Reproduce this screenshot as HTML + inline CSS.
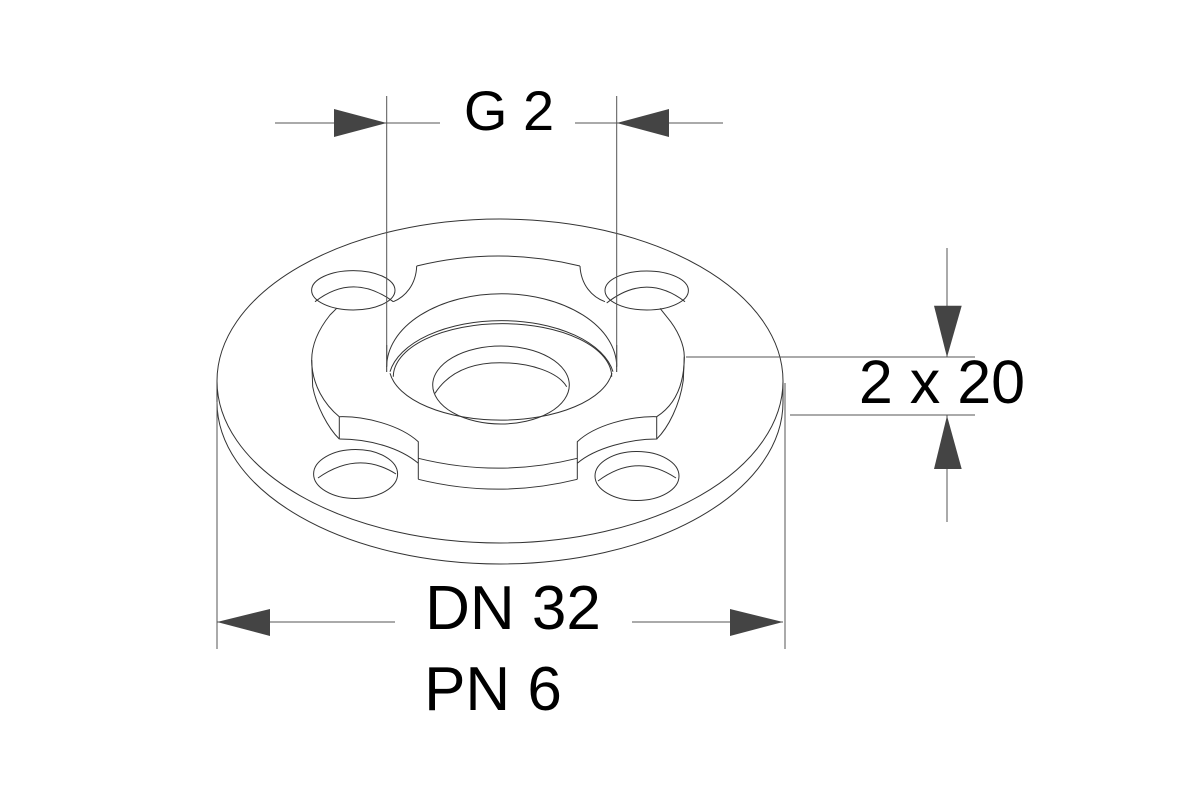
<!DOCTYPE html>
<html><head><meta charset="utf-8"><style>html,body{margin:0;padding:0;background:#fff}svg{display:block}</style></head>
<body>
<svg width="1200" height="800" viewBox="0 0 1200 800" xmlns="http://www.w3.org/2000/svg">
<g fill="none" stroke="#333" stroke-width="1">
<!-- outer flange -->
<ellipse cx="500" cy="381" rx="283" ry="162"/>
<path d="M217,381 L217,402 A283,162 0 0 0 783,402 L783,381"/>
<!-- holes -->
<ellipse cx="353.3" cy="290.3" rx="41.7" ry="19.7"/>
<path d="M315,301.7 Q353,272 393.3,301.7"/>
<ellipse cx="646.7" cy="290.5" rx="41.7" ry="19.5"/>
<path d="M606.7,303 Q646,272 685,301.7"/>
<ellipse cx="355.6" cy="474" rx="42" ry="24.5"/>
<path d="M318,478 Q358,450 396,474"/>
<ellipse cx="637" cy="476" rx="42" ry="24.5"/>
<path d="M598,481 Q637,452 676,478"/>
<!-- boss top notch -->
<path d="M416.7,266 Q498.3,246 580,266"/>
<path d="M416.7,266 C416,285 405,297 393.3,301.7"/>
<path d="M580,266 C581,285 592,297 605,301.7"/>
<!-- left boss -->
<path d="M336.7,308.3 L330,315 C318,330 311.7,345 311.7,360 C311.7,385 325,405 339.3,416.7"/>
<path d="M311.7,360 L312.7,386.7 C316,405 328,428 339.3,439"/>
<path d="M339.3,416.7 L339.3,439"/>
<path d="M339.3,416.7 C365,416 400,425 418.3,441.7 L418.3,479.3"/>
<path d="M339.3,439 C370,439 400,448 418.3,463.3"/>
<!-- front chord -->
<path d="M418.3,458.3 Q498.3,478 577.3,458.3"/>
<path d="M418.3,479.3 Q498.3,499 577.3,479.3"/>
<path d="M577.3,479.3 L577.3,441.7 C595,425 630,416 656.7,416.7 L656.7,439 C630,439 595,448 577.3,463.3"/>
<!-- right boss -->
<path d="M656.7,416.7 C675,405 684.3,385 684.3,356.7 C684.3,345 678,330 666.7,316.7 L660,308.3"/>
<path d="M684.3,356.7 L683.3,380 C680,405 668,428 656.7,439"/>
<!-- bore -->
<path d="M386.7,366.7 A115,73 0 0 1 616.7,366.7"/>
<path d="M386.7,345 L386.7,372 M616.7,345 L616.7,372"/>
<path d="M390,373.3 A112,54 0 0 0 612,373.3"/>
<path d="M390,371.7 A113,61 0 0 1 613,371.7"/>
<path d="M393.3,376.7 A109,53 0 0 1 611.7,376.7"/>
<ellipse cx="501" cy="385" rx="68.3" ry="39"/>
<path d="M435,393.3 C450,370 475,362.7 500,362.7 C530,362.7 558,372 566.7,386.7"/>
</g>
<!-- dimension lines -->
<g stroke="#555" stroke-width="1" fill="none">
<path d="M386.7,96 L386.7,366 M616.7,96 L616.7,366"/>
<path d="M275,123 L440,123 M575,123 L723,123"/>
<path d="M686,357 L975,357 M790,415 L975,415"/>
<path d="M947,248 L947,357 M947,415 L947,522"/>
<path d="M217,402 L217,649 M785,383 L785,649"/>
<path d="M217,622 L395,622 M632,622 L783,622"/>
</g>
<g fill="#444">
<polygon points="334,109 386.7,123 334,137"/>
<polygon points="669,109 616.7,123 669,137"/>
<polygon points="934,305.7 961.7,305.7 947,357.3"/>
<polygon points="934,469 961.7,469 947,415.7"/>
<polygon points="270,609 217,622 270,636"/>
<polygon points="730,609 783,622 730,636"/>
</g>
<g font-family="Liberation Sans, Arial, sans-serif" fill="#000">
<text x="509" y="130" font-size="56" text-anchor="middle">G 2</text>
<text x="942" y="403" font-size="61" text-anchor="middle">2 x 20</text>
<text x="513" y="629" font-size="62" text-anchor="middle">DN 32</text>
<text x="493" y="710" font-size="62" text-anchor="middle">PN 6</text>
</g>
</svg>
</body></html>
